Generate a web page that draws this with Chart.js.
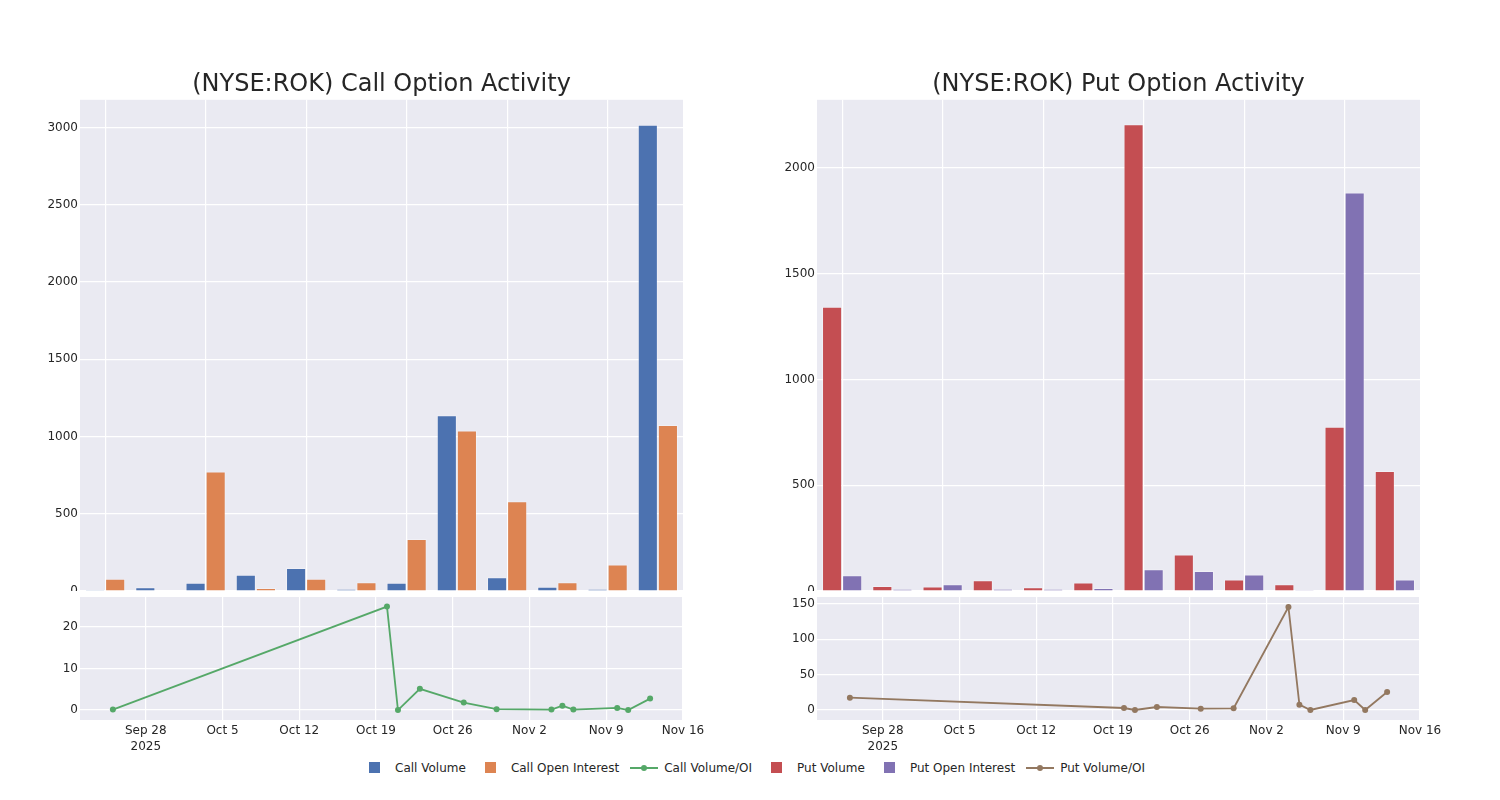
<!DOCTYPE html>
<html>
<head>
<meta charset="utf-8">
<title>(NYSE:ROK) Option Activity</title>
<script src="https://cdn.jsdelivr.net/npm/chart.js@4.4.1/dist/chart.umd.min.js"></script>
<style>
  body { margin: 0; background: #fff; font-family: 'DejaVu Sans', sans-serif; }
  #wrap { position: relative; width: 1500px; height: 800px; overflow: hidden; }
  #wrap canvas { position: absolute; }
  #legend {
    position: absolute; top: 760px; left: 3px; width: 1500px; height: 16px;
    display: flex; justify-content: center; align-items: center;
    font-size: 12px; color: #262626;
  }
  .item { display: flex; align-items: center; margin: 0 5.5px; }
  .handle { position: relative; width: 28px; height: 16px; margin-right: 6px; }
  .sq { position: absolute; left: 8px; top: 2px; width: 11px; height: 11px; }
  .ln { position: absolute; left: 0; top: 7px; width: 28px; height: 2px; }
  .dot { position: absolute; left: 11px; top: 5px; width: 6px; height: 6px; border-radius: 50%; }
</style>
</head>
<body>
<div id="wrap">
  <canvas id="callBar" width="720" height="591" style="left:0;top:0"></canvas>
  <canvas id="callLine" width="720" height="170" style="left:0;top:590px"></canvas>
  <canvas id="putBar" width="723" height="591" style="left:737px;top:0"></canvas>
  <canvas id="putLine" width="723" height="170" style="left:737px;top:590px"></canvas>
  <div id="legend"></div>
</div>
<script>
/* ---- data ---- */
var dates = ['2025-09-25', '2025-10-20', '2025-10-21', '2025-10-23', '2025-10-27', '2025-10-30',
             '2025-11-04', '2025-11-05', '2025-11-06', '2025-11-10', '2025-11-11', '2025-11-13'];
var callVolume       = [6, 25, 54, 106, 149, 11, 54, 1138, 89, 28, 11, 3018];
var callOpenInterest = [80, 1, 774, 20, 80, 56, 337, 1039, 581, 56, 171, 1074];
var callVolOI        = [0.1, 24.9, 0, 5.1, 1.8, 0.2, 0.1, 1.05, 0.1, 0.5, 0, 2.75];
var putVolume        = [1344, 24, 21, 51, 18, 40, 2207, 172, 54, 32, 777, 567];
var putOpenInterest  = [74, 8, 32, 10, 8, 14, 103, 95, 78, 5, 1884, 54];
var putVolOI         = [17.4, 2.8, 0, 4.2, 1.9, 2.4, 145.8, 7.5, 0, 14.1, 0, 25.4];
var tickLabels = [['Sep 28', '2025'], 'Oct 5', 'Oct 12', 'Oct 19', 'Oct 26', 'Nov 2', 'Nov 9', 'Nov 16'];
var firstTick = '2025-09-28', axisStart = '2025-09-22', axisEnd = '2025-11-16';

var seriesNames  = ['Call Volume', 'Call Open Interest', 'Call Volume/OI', 'Put Volume', 'Put Open Interest', 'Put Volume/OI'];
var seriesColors = ['#4C72B0', '#DD8452', '#55A868', '#C44E52', '#8172B3', '#937860'];
var seriesKinds  = ['bar', 'bar', 'line', 'bar', 'bar', 'line'];

var FONT = 'DejaVu Sans';
var INK = '#262626';

function dayOf(s) {
  return (Date.parse(s) - Date.parse(firstTick)) / 86400000;
}

/* ticks every `step` from the first multiple at/after min up to max */
function stepTicks(step) {
  return function (s) {
    var out = [];
    for (var v = Math.ceil(s.min / step) * step; v <= s.max + 1e-9; v += step) out.push({ value: v });
    s.ticks = out;
  };
}

/* panel background */
var bgPlugin = {
  id: 'bg',
  beforeDraw: function (chart) {
    var a = chart.chartArea, c = chart.ctx;
    c.save();
    c.fillStyle = '#EAEAF2';
    c.fillRect(a.left, a.top, a.right - a.left, a.bottom - a.top);
    c.restore();
  }
};

/* centre the title over the plot area rather than the whole canvas */
var centerTitle = {
  id: 'centerTitle',
  afterLayout: function (chart) {
    var t = chart.titleBlock;
    if (t) {
      t.left = chart.chartArea.left;
      t.right = chart.chartArea.right;
      t.width = t.right - t.left;
    }
  }
};

function yAxis(min, max, step) {
  return {
    min: min, max: max,
    afterBuildTicks: stepTicks(step),
    ticks: { color: INK, padding: 2, font: { family: FONT, size: 12 },
             callback: function (v) { return String(v); } },
    grid: { color: '#ffffff', lineWidth: 1.2, drawTicks: false },
    border: { display: false },
    afterFit: function (s) { s.width = 80; s.paddingTop = 0; s.paddingBottom = 0; }
  };
}

function barChart(id, title, i1, d1, i2, d2, yMax, padRight) {
  return new Chart(document.getElementById(id), {
    type: 'bar',
    data: {
      labels: dates,
      datasets: [
        { label: seriesNames[i1], data: d1, backgroundColor: seriesColors[i1],
          borderColor: 'rgba(255,255,255,0.3)', borderWidth: 1,
          categoryPercentage: 0.8, barPercentage: 1 },
        { label: seriesNames[i2], data: d2, backgroundColor: seriesColors[i2],
          borderColor: 'rgba(255,255,255,0.3)', borderWidth: 1,
          categoryPercentage: 0.8, barPercentage: 1 }
      ]
    },
    options: {
      responsive: false,
      animation: false,
      layout: { padding: { left: 0, right: padRight, top: 0, bottom: 0 } },
      plugins: {
        legend: { display: false },
        tooltip: { enabled: false },
        title: {
          display: true, text: title, color: INK,
          font: { family: FONT, size: 24, weight: 'normal' },
          padding: { top: 70, bottom: 1 }
        }
      },
      scales: {
        x: {
          grid: {
            offset: false, drawTicks: false, lineWidth: 1.2,
            color: function (c) { return c.index % 2 === 0 ? '#ffffff' : 'rgba(0,0,0,0)'; }
          },
          ticks: { display: false },
          border: { display: false },
          afterFit: function (s) { s.height = 0; s.paddingLeft = 0; s.paddingRight = 0; }
        },
        y: yAxis(0, yMax, 500)
      }
    },
    plugins: [bgPlugin, centerTitle]
  });
}

function lineChart(id, idx, values, yMin, yMax, step, padRight) {
  var pts = dates.map(function (d, i) { return { x: dayOf(d), y: values[i] }; });
  return new Chart(document.getElementById(id), {
    type: 'line',
    data: {
      datasets: [{
        label: seriesNames[idx], data: pts,
        borderColor: seriesColors[idx], backgroundColor: seriesColors[idx],
        borderWidth: 1.8, pointRadius: 3, pointBorderWidth: 0,
        pointBackgroundColor: seriesColors[idx], tension: 0
      }]
    },
    options: {
      responsive: false,
      animation: false,
      layout: { padding: { left: 0, right: padRight, top: 7, bottom: 0 } },
      plugins: { legend: { display: false }, tooltip: { enabled: false } },
      scales: {
        x: {
          type: 'linear', min: dayOf(axisStart), max: dayOf(axisEnd),
          afterBuildTicks: stepTicks(7),
          ticks: {
            autoSkip: false, maxRotation: 0,
            color: INK, padding: 3, font: { family: FONT, size: 12, lineHeight: 1.35 },
            callback: function (v) { return tickLabels[Math.round(v / 7)]; }
          },
          grid: { color: '#ffffff', lineWidth: 1.2, drawTicks: false },
          border: { display: false },
          afterFit: function (s) { s.height = 40; s.paddingLeft = 0; s.paddingRight = 0; }
        },
        y: yAxis(yMin, yMax, step)
      }
    },
    plugins: [bgPlugin]
  });
}

barChart('callBar', '(NYSE:ROK) Call Option Activity', 0, callVolume, 1, callOpenInterest, 3180, 37);
lineChart('callLine', 2, callVolOI, -2.4, 27.2, 10, 37);
barChart('putBar', '(NYSE:ROK) Put Option Activity', 3, putVolume, 4, putOpenInterest, 2322, 40);
lineChart('putLine', 5, putVolOI, -14.2, 160, 50, 40);

/* ---- shared legend ---- */
var legend = document.getElementById('legend');
seriesNames.forEach(function (name, i) {
  var item = document.createElement('div');
  item.className = 'item';
  var h = document.createElement('span');
  h.className = 'handle';
  if (seriesKinds[i] === 'bar') {
    h.innerHTML = '<span class="sq" style="background:' + seriesColors[i] + '"></span>';
  } else {
    h.innerHTML = '<span class="ln" style="background:' + seriesColors[i] + '"></span>' +
                  '<span class="dot" style="background:' + seriesColors[i] + '"></span>';
  }
  var t = document.createElement('span');
  t.textContent = name;
  item.appendChild(h);
  item.appendChild(t);
  legend.appendChild(item);
});
</script>
</body>
</html>
